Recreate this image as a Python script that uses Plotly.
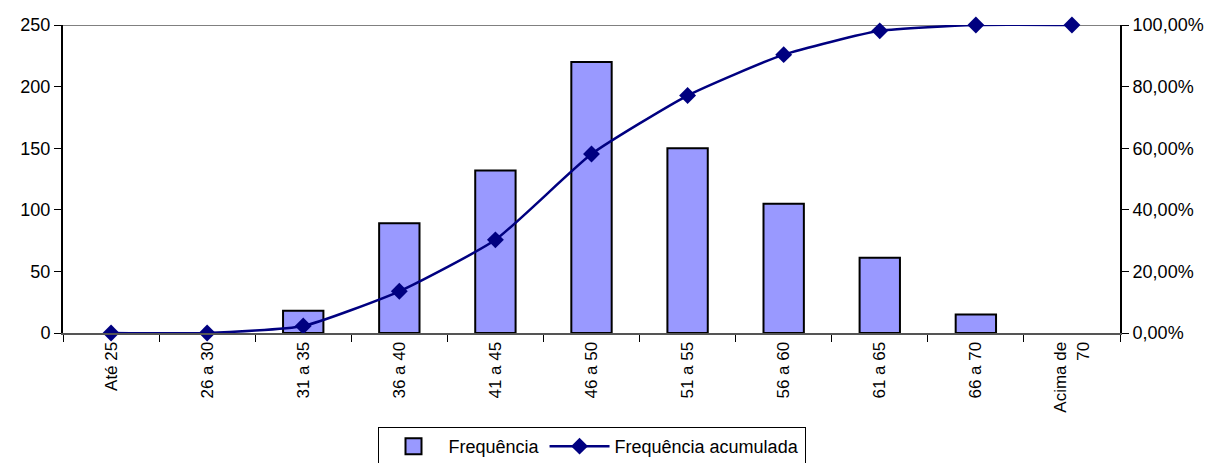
import plotly.graph_objects as go

categories = ["Até 25", "26 a 30", "31 a 35", "36 a 40", "41 a 45", "46 a 50",
              "51 a 55", "56 a 60", "61 a 65", "66 a 70", "Acima de<br>70"]
frequencia = [0, 0, 18, 89, 132, 220, 150, 105, 61, 15, 0]
freq_acumulada = [0.0, 0.0, 0.0228, 0.1354, 0.3025, 0.5810, 0.7709, 0.9038, 0.9810, 1.0, 1.0]
left_ticks = [0, 50, 100, 150, 200, 250]
right_tickvals = [0, 0.2, 0.4, 0.6, 0.8, 1.0]
right_ticktext = ["0,00%", "20,00%", "40,00%", "60,00%", "80,00%", "100,00%"]

font = "Liberation Sans, Arial, sans-serif"

bar_line_widths = [2 if v > 0 else 0 for v in frequencia]

fig = go.Figure()
fig.add_trace(go.Bar(
    x=categories, y=frequencia, name="Frequência", showlegend=False,
    marker=dict(color="#9999FF", line=dict(color="black", width=bar_line_widths)),
    width=0.42,
))
# legend-only entry for the bars (box with black outline)
fig.add_trace(go.Scatter(
    x=[None], y=[None], name="Frequência", mode="markers",
    marker=dict(symbol="square", size=17, color="#9999FF", line=dict(color="black", width=2)),
))
fig.add_trace(go.Scatter(
    x=categories, y=freq_acumulada, name="Frequência acumulada", yaxis="y2",
    mode="lines+markers", line=dict(color="#000080", width=2.5, shape="spline", smoothing=0.5),
    marker=dict(symbol="diamond", size=13, color="#000080"),
    cliponaxis=False,
))

fig.add_shape(type="line", xref="paper", yref="y", x0=0, x1=1, y0=250, y1=250,
              line=dict(color="#808080", width=2), layer="below")

fig.update_layout(
    width=1211, height=455,
    margin=dict(l=55, r=99, t=17, b=130, autoexpand=False),
    paper_bgcolor="white", plot_bgcolor="white",
    font=dict(family=font, size=18, color="black"),
    showlegend=True,
    legend=dict(orientation="h", x=0.5, xanchor="center", y=-0.305, yanchor="top",
                bordercolor="black", borderwidth=1, font=dict(size=18),
                itemwidth=60, tracegroupgap=0),
    xaxis=dict(type="category", tickson="boundaries", ticks="outside", ticklen=7,
               tickcolor="black", showline=True, linecolor="#555", linewidth=2,
               tickangle=-90, showgrid=False, tickfont=dict(size=17),
               range=[-0.5, 10.5], automargin=False),
    yaxis=dict(range=[0, 250], tickvals=left_ticks, ticks="outside", ticklen=7,
               tickcolor="black", showline=True, linecolor="black", linewidth=2,
               showgrid=False, zeroline=False, tickfont=dict(size=18), automargin=False),
    yaxis2=dict(range=[0, 1], overlaying="y", side="right", tickvals=right_tickvals,
                ticktext=right_ticktext, ticks="outside", ticklen=7, tickcolor="black",
                showline=True, linecolor="black", linewidth=2, showgrid=False,
                zeroline=False, tickfont=dict(size=18), automargin=False),
)

fig.write_html("out.html")
